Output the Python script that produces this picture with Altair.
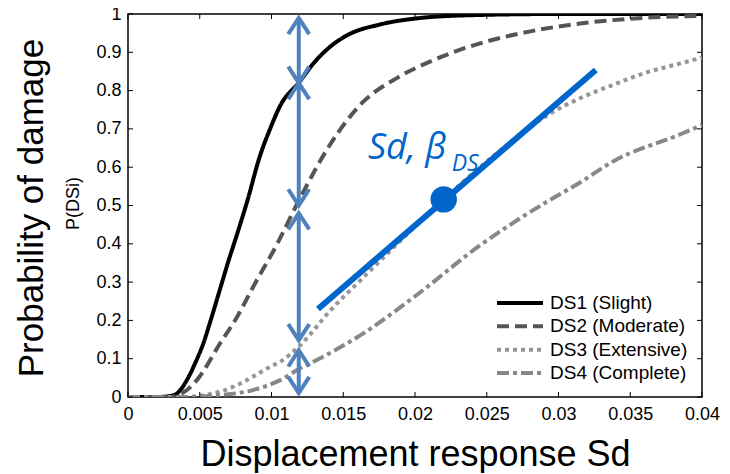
import altair as alt
import pandas as pd

# ---------------- data ----------------
series_names = ["DS1 (Slight)", "DS2 (Moderate)", "DS3 (Extensive)", "DS4 (Complete)"]

ds1_x = [0, 0.002, 0.003, 0.0035, 0.0041, 0.0047, 0.00525, 0.0058, 0.0064, 0.007, 0.0076, 0.0083,
         0.0092, 0.0099, 0.0106, 0.012, 0.0129, 0.0141, 0.0152, 0.0176, 0.020, 0.024, 0.030, 0.040]
ds1_p = [0, 0, 0.003, 0.012, 0.044, 0.09, 0.14, 0.205, 0.28, 0.355, 0.425, 0.51,
         0.63, 0.70, 0.76, 0.825, 0.87, 0.915, 0.943, 0.973, 0.988, 0.997, 1.0, 1.0]

ds2_x = [0, 0.003, 0.0036, 0.0048, 0.0064, 0.0076, 0.0087, 0.0104, 0.012, 0.0141, 0.0164, 0.0187,
         0.021, 0.0234, 0.0268, 0.0315, 0.036, 0.040]
ds2_p = [0, 0, 0.006, 0.044, 0.139, 0.209, 0.286, 0.40, 0.52, 0.66, 0.771, 0.832,
         0.875, 0.91, 0.945, 0.975, 0.99, 0.995]

ds3_x = [0, 0.004, 0.0048, 0.0064, 0.0076, 0.0087, 0.0099, 0.0106, 0.012, 0.0141, 0.0164, 0.0192,
         0.023, 0.027, 0.0292, 0.0315, 0.0338, 0.0361, 0.0385, 0.040]
ds3_p = [0, 0, 0.002, 0.014, 0.031, 0.053, 0.079, 0.092, 0.135, 0.226, 0.312, 0.416,
         0.55, 0.675, 0.735, 0.78, 0.815, 0.847, 0.871, 0.886]

ds4_x = [0, 0.004, 0.006, 0.0087, 0.0106, 0.012, 0.0127, 0.0164, 0.0199, 0.0245, 0.0292, 0.0315,
         0.0338, 0.0385, 0.040]
ds4_p = [0, 0, 0.004, 0.018, 0.044, 0.075, 0.088, 0.166, 0.26, 0.395, 0.51, 0.56,
         0.615, 0.686, 0.71]

x_ticks = [0, 0.005, 0.01, 0.015, 0.02, 0.025, 0.03, 0.035, 0.04]
y_ticks = [0, 0.1, 0.2, 0.3, 0.4, 0.5, 0.6, 0.7, 0.8, 0.9, 1.0]

# annotation values (data coordinates)
arrow_x = 0.0119
arrow_top = [0.99, 0.82, 0.48, 0.122]
arrow_bottom = [0.82, 0.50, 0.148, 0.01]
fit_x = [0.01324, 0.0326]
fit_p = [0.23, 0.854]
mid_x = [0.022]
mid_p = [0.516]
label_text = ["Sd, β", "DS"]
label_x = [0.01672, 0.02256]
label_p = [0.621, 0.59]

# ---------------- styling ----------------
W, H = 574, 383
FONT = "Liberation Sans"
ARROW = "#4f81bd"
BLUE = "#0066cc"
colors = ["#000000", "#555555", "#969696", "#888888"]
dashes = [[1, 0], [12, 6], [4, 4], [12, 4, 4, 4]]

rows = []
for name, xs, ps in zip(series_names, [ds1_x, ds2_x, ds3_x, ds4_x], [ds1_p, ds2_p, ds3_p, ds4_p]):
    for xv, pv in zip(xs, ps):
        rows.append({"series": name, "x": xv, "p": pv})
curves_df = pd.DataFrame(rows)

xscale = alt.Scale(domain=[0, 0.04], nice=False, zero=False)
yscale = alt.Scale(domain=[0, 1], nice=False, zero=False)
cscale = alt.Scale(domain=series_names, range=colors)
dscale = alt.Scale(domain=series_names, range=dashes)

x_axis = alt.Axis(values=x_ticks, format="~g", ticks=False, domain=False, grid=False,
                  labelFont=FONT, labelFontSize=18, labelColor="black", labelPadding=8,
                  labelFlush=False, labelOverlap=False,
                  title="Displacement response Sd", titleFont=FONT, titleFontSize=36,
                  titleFontWeight="normal", titleColor="black", titleX=W / 2, titleY=68,
                  titleBaseline="alphabetic", titleAlign="center")
y_axis = alt.Axis(values=y_ticks, format="~g", ticks=False, domain=False, grid=False,
                  labelFont=FONT, labelFontSize=18, labelColor="black", labelPadding=7,
                  labelFlush=False, labelOverlap=False,
                  title="Probability of damage", titleFont=FONT, titleFontSize=35,
                  titleFontWeight="normal", titleColor="black", titleX=-86, titleY=H / 2 + 2,
                  titleAngle=-90, titleBaseline="alphabetic", titleAlign="center")


def X(field):
    return alt.X(field, scale=xscale, axis=x_axis)


def Y(field):
    return alt.Y(field, scale=yscale, axis=y_axis)


curves = alt.Chart(curves_df).mark_line(strokeWidth=4, interpolate="monotone", clip=True).encode(
    x=X("x:Q"),
    y=Y("p:Q"),
    color=alt.Color("series:N", scale=cscale, legend=None),
    strokeDash=alt.StrokeDash("series:N", scale=dscale, legend=None),
    order=alt.Order("x:Q"),
)

yt_df = pd.DataFrame({"v": y_ticks})
xt_df = pd.DataFrame({"v": x_ticks})
TL = 5
ytick_l = alt.Chart(yt_df).mark_rule(color="black", strokeWidth=1).encode(
    y=Y("v:Q"), x=alt.value(0), x2=alt.value(TL))
ytick_r = alt.Chart(yt_df).mark_rule(color="black", strokeWidth=1).encode(
    y=Y("v:Q"), x=alt.value(W - TL), x2=alt.value(W))
xtick_b = alt.Chart(xt_df).mark_rule(color="black", strokeWidth=1).encode(
    x=X("v:Q"), y=alt.value(H - TL), y2=alt.value(H))
xtick_t = alt.Chart(xt_df).mark_rule(color="black", strokeWidth=1).encode(
    x=X("v:Q"), y=alt.value(0), y2=alt.value(TL))

arr_df = pd.DataFrame({"x": [arrow_x] * len(arrow_top), "top": arrow_top, "bottom": arrow_bottom})
arrow_lines = alt.Chart(arr_df).mark_rule(color=ARROW, strokeWidth=4).encode(
    x=X("x:Q"), y=Y("top:Q"), y2="bottom:Q")
UP = "M-1,1.55L0,0L1,1.55"
DOWN = "M-1,-1.55L0,0L1,-1.55"
heads_up = alt.Chart(arr_df).mark_point(shape=UP, filled=False, size=440, strokeWidth=4,
                                        color=ARROW, opacity=1).encode(
    x=X("x:Q"), y=Y("top:Q"))
heads_down = alt.Chart(arr_df).mark_point(shape=DOWN, filled=False, size=440, strokeWidth=4,
                                          color=ARROW, opacity=1).encode(
    x=X("x:Q"), y=Y("bottom:Q"))

fit_df = pd.DataFrame({"x": fit_x, "p": fit_p})
fit_line = alt.Chart(fit_df).mark_line(color=BLUE, strokeWidth=6).encode(
    x=X("x:Q"), y=Y("p:Q"))
mid_df = pd.DataFrame({"x": mid_x, "p": mid_p})
mid_pt = alt.Chart(mid_df).mark_point(shape="circle", filled=True, size=700, color=BLUE,
                                      opacity=1).encode(
    x=X("x:Q"), y=Y("p:Q"))

lab_df = pd.DataFrame({"t": label_text, "x": label_x, "p": label_p})
lab_main = alt.Chart(lab_df.iloc[[0]]).mark_text(font="Open Sans", fontStyle="italic", fontSize=36,
                                                 color=BLUE, align="left", baseline="alphabetic").encode(
    x=X("x:Q"), y=Y("p:Q"), text="t:N")
lab_sub = alt.Chart(lab_df.iloc[[1]]).mark_text(font="Open Sans", fontStyle="italic", fontSize=23,
                                                color=BLUE, align="left", baseline="alphabetic").encode(
    x=X("x:Q"), y=Y("p:Q"), text="t:N")

sub_title = alt.Chart(pd.DataFrame({"t": ["P(DSi)"]})).mark_text(
    font=FONT, fontSize=18, angle=270, align="center", baseline="middle", color="black").encode(
    x=alt.value(-54), y=alt.value(H / 2 - 2), text="t:N")

main = alt.layer(curves, ytick_l, ytick_r, xtick_b, xtick_t, arrow_lines, heads_up, heads_down,
                 fit_line, mid_pt, lab_main, lab_sub, sub_title)

leg_df = pd.DataFrame({"series": series_names})
leg_y = alt.Y("series:N", scale=alt.Scale(type="point", domain=series_names, range=[289, 359],
                                          padding=0), axis=None)
leg_lines = alt.Chart(leg_df).mark_rule(strokeWidth=4).encode(
    x=alt.value(369), x2=alt.value(415), y=leg_y,
    color=alt.Color("series:N", scale=cscale, legend=None),
    strokeDash=alt.StrokeDash("series:N", scale=dscale, legend=None))
leg_text = alt.Chart(leg_df).mark_text(font=FONT, fontSize=19, align="left", baseline="middle",
                                       color="black").encode(
    x=alt.value(422), y=leg_y, text="series:N")
legend = alt.layer(leg_lines, leg_text)

chart = alt.layer(main, legend).resolve_scale(y="independent").properties(
    width=W, height=H,
    padding={"left": 120, "top": 6, "right": 20, "bottom": 76},
    autosize=alt.AutoSizeParams(type="none"),
    background="white",
).configure_view(stroke="black", strokeWidth=1.5)

chart.save("out.html", embed_options={"renderer": "svg", "actions": False})
